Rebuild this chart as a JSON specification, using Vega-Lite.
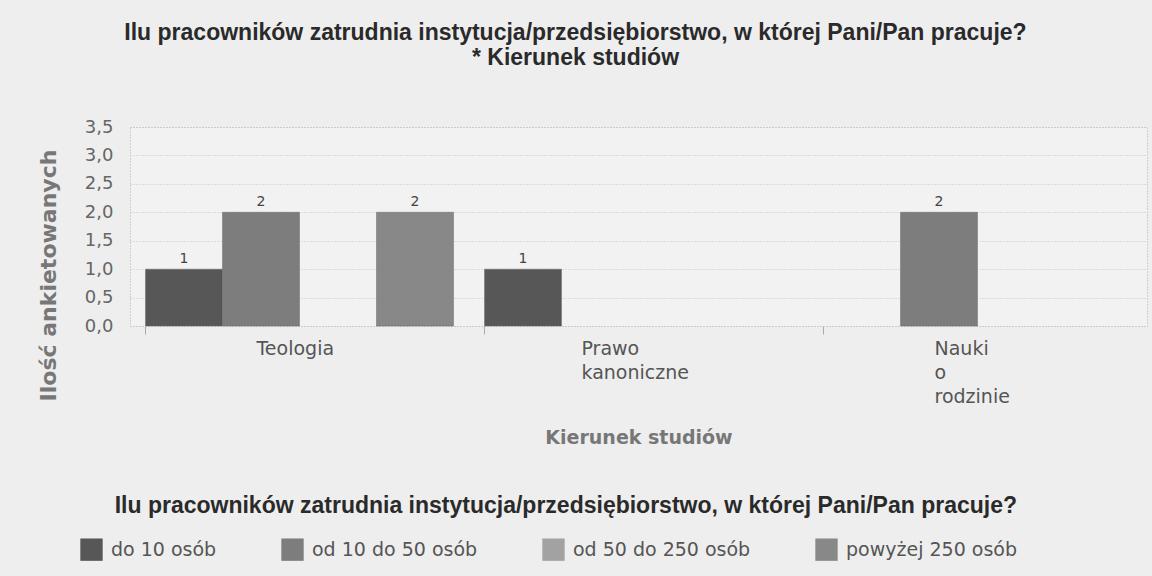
{
  "$schema": "https://vega.github.io/schema/vega-lite/v6.json",
  "width": 1017,
  "height": 199,
  "autosize": {"type": "none"},
  "padding": {"left": 130, "top": 127, "right": 5, "bottom": 250},
  "background": "#eeeeee",
  "title": {
    "text": ["Ilu pracowników zatrudnia instytucja/przedsiębiorstwo, w której Pani/Pan pracuje?", "* Kierunek studiów"],
    "font": "Liberation Sans",
    "fontSize": 23,
    "fontWeight": "bold",
    "color": "#2a2a2a",
    "anchor": "middle",
    "dx": -63,
    "offset": 48,
    "lineHeight": 25
  },
  "data": {
    "values": [
      {"kierunek": "Teologia", "grupa": "do 10 osób", "n": 1},
      {"kierunek": "Teologia", "grupa": "od 10 do 50 osób", "n": 2},
      {"kierunek": "Teologia", "grupa": "powyżej 250 osób", "n": 2},
      {"kierunek": "Prawo kanoniczne", "grupa": "do 10 osób", "n": 1},
      {"kierunek": "Nauki o rodzinie", "grupa": "od 10 do 50 osób", "n": 2}
    ]
  },
  "encoding": {
    "x": {
      "field": "kierunek",
      "type": "nominal",
      "sort": ["Teologia", "Prawo kanoniczne", "Nauki o rodzinie"],
      "scale": {"paddingInner": 0.0915, "paddingOuter": 0.0457},
      "axis": {
        "title": "Kierunek studiów",
        "titleFont": "DejaVu Sans",
        "titleFontSize": 19,
        "titleFontWeight": "bold",
        "titleColor": "#777777",
        "titleY": 117,
        "titleBaseline": "alphabetic",
        "labelExpr": "split(datum.label, ' ')",
        "labelAngle": 0,
        "labelAlign": "left",
        "labelBaseline": "top",
        "labelOffset": {"condition": {"test": "datum.value == 'Prawo kanoniczne'", "value": -57}, "value": -43},
        "labelFont": "DejaVu Sans",
        "labelFontSize": 19,
        "labelColor": "#555555",
        "labelLineHeight": 24,
        "labelPadding": 5,
        "bandPosition": 0,
        "ticks": true,
        "tickSize": 8,
        "tickColor": "#aaaaaa",
        "domain": false,
        "grid": false
      }
    },
    "xOffset": {
      "field": "grupa",
      "type": "nominal",
      "scale": {"domain": ["do 10 osób", "od 10 do 50 osób", "od 50 do 250 osób", "powyżej 250 osób"], "paddingInner": 0, "paddingOuter": 0}
    },
    "y": {
      "field": "n",
      "type": "quantitative",
      "scale": {"domain": [0, 3.5]},
      "axis": {
        "title": "Ilość ankietowanych",
        "titleFont": "DejaVu Sans",
        "titleFontSize": 22,
        "titleFontWeight": "bold",
        "titleColor": "#777777",
        "titleX": -82,
        "titleY": 148,
        "titleAngle": -90,
        "titleBaseline": "middle",
        "titleAlign": "center",
        "values": [0, 0.5, 1, 1.5, 2, 2.5, 3, 3.5],
        "labelExpr": "replace(format(datum.value, '.1f'), '.', ',')",
        "labelFont": "DejaVu Sans",
        "labelFontSize": 18,
        "labelColor": "#666666",
        "labelPadding": 17,
        "ticks": false,
        "domain": false,
        "grid": true,
        "gridColor": "#c4c4c4",
        "gridDash": [1, 2]
      }
    }
  },
  "layer": [
    {
      "mark": {"type": "bar", "stroke": "#6a6a6a", "strokeWidth": 0.5},
      "encoding": {
        "color": {
          "field": "grupa",
          "type": "nominal",
          "scale": {
            "domain": ["do 10 osób", "od 10 do 50 osób", "od 50 do 250 osób", "powyżej 250 osób"],
            "range": ["#575757", "#7d7d7d", "#a2a2a2", "#888888"]
          },
          "legend": {
            "title": "Ilu pracowników zatrudnia instytucja/przedsiębiorstwo, w której Pani/Pan pracuje?",
            "orient": "none",
            "direction": "horizontal",
            "legendX": -50,
            "legendY": 368,
            "titleFont": "Liberation Sans",
            "titleFontSize": 23,
            "titleFontWeight": "bold",
            "titleColor": "#2a2a2a",
            "titleAnchor": "end",
            "titleLimit": 1100,
            "titlePadding": 20,
            "symbolType": "square",
            "symbolSize": 500,
            "symbolStrokeWidth": 0,
            "labelFont": "DejaVu Sans",
            "labelFontSize": 19,
            "labelColor": "#555555",
            "labelLimit": 400,
            "columnPadding": 64,
            "labelOffset": 8
          }
        }
      }
    },
    {
      "mark": {"type": "text", "baseline": "bottom", "dy": -3, "font": "DejaVu Sans", "fontSize": 14, "color": "#444444"},
      "encoding": {
        "text": {"field": "n", "type": "quantitative"}
      }
    }
  ],
  "config": {
    "view": {"fill": "#f2f2f2", "stroke": "#b0b0b0", "strokeDash": [1, 2]}
  }
}
